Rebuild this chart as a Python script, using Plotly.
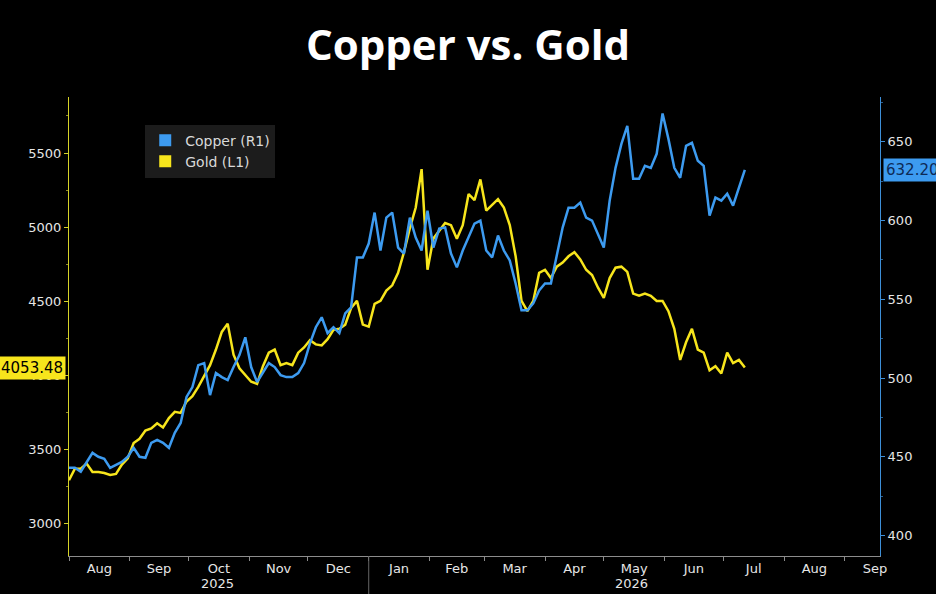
import pandas as pd
import plotly.graph_objects as go

# Copper vs. Gold (um ponto a cada 3 dias)
dates = pd.date_range("2025-08-01", periods=116, freq="3D")

gold = [
    3294, 3371, 3371, 3406, 3350, 3350, 3343, 3329, 3336, 3399,
    3441, 3545, 3573, 3629, 3643, 3678, 3650, 3713, 3755, 3748,
    3825, 3860, 3923, 3993, 4070, 4175, 4294, 4350, 4140, 4049,
    4000, 3958, 3944, 4063, 4154, 4175, 4070, 4084, 4070, 4154,
    4189, 4238, 4210, 4203, 4245, 4308, 4315, 4343, 4455, 4503,
    4343, 4329, 4483, 4503, 4573, 4608, 4692, 4832, 4993, 5133,
    5392, 4713, 4923, 4972, 5028, 5014, 4923, 5014, 5224, 5182,
    5322, 5112, 5154, 5189, 5133, 5014, 4804, 4503, 4434, 4503,
    4692, 4713, 4657, 4734, 4762, 4804, 4832, 4783, 4713, 4678,
    4594, 4524, 4657, 4727, 4734, 4699, 4552, 4538, 4552, 4538,
    4503, 4503, 4434, 4315, 4105, 4224, 4315, 4175, 4154, 4035,
    4063, 4014, 4154, 4084, 4105, 4053.48,
]

copper = [
    443.0, 443.0, 440.5, 446.2, 452.5, 450.0, 448.7, 443.0, 444.9, 446.8,
    450.0, 455.7, 450.0, 449.4, 458.9, 460.8, 458.9, 455.7, 465.2, 471.5,
    488.0, 494.3, 508.2, 509.5, 489.2, 503.2, 500.6, 498.7, 507.0, 514.6,
    525.9, 507.0, 497.5, 503.8, 509.5, 507.0, 501.9, 500.6, 500.6, 503.2,
    509.5, 522.1, 532.3, 538.6, 528.5, 532.3, 528.5, 541.1, 544.9, 576.6,
    576.6, 585.4, 605.1, 581.0, 601.9, 605.1, 582.9, 579.1, 601.9, 589.2,
    581.0, 606.3, 582.9, 594.9, 595.6, 579.1, 570.3, 581.0, 589.2, 598.1,
    600.0, 581.0, 576.6, 590.5, 581.0, 574.7, 560.1, 543.0, 543.0, 547.5,
    555.7, 560.1, 560.1, 579.1, 595.6, 608.2, 608.2, 611.4, 601.9, 600.0,
    591.8, 582.9, 612.7, 633.5, 648.7, 660.1, 626.6, 626.6, 634.8, 633.5,
    642.4, 668.0, 651.9, 633.5, 627.2, 647.5, 649.4, 638.0, 634.8, 603.2,
    614.6, 612.7, 617.1, 609.5, 620.9, 632.2,
]

year_labels = ["2025", "2026"]
year_pos = ["2025-10-16", "2026-05-15"]

GOLD_COLOR = "#f7e51c"
COPPER_COLOR = "#3d9bf0"
TICK_FONT = dict(family="DejaVu Sans", size=13, color="#e6e6e6")

fig = go.Figure()

fig.add_trace(go.Scatter(x=dates, y=gold, mode="lines", name="Gold (L1)",
                         line=dict(color=GOLD_COLOR, width=2.5), showlegend=False))
fig.add_trace(go.Scatter(x=dates, y=copper, mode="lines", name="Copper (R1)",
                         line=dict(color=COPPER_COLOR, width=2.5), yaxis="y2",
                         showlegend=False))

# entradas da legenda com quadrados
fig.add_trace(go.Scatter(x=[None], y=[None], mode="markers", name="Copper (R1)",
                         marker=dict(symbol="square", size=12, color=COPPER_COLOR)))
fig.add_trace(go.Scatter(x=[None], y=[None], mode="markers", name="Gold (L1)",
                         marker=dict(symbol="square", size=12, color=GOLD_COLOR)))

# rótulos dos anos e separador
for label, pos in zip(year_labels, year_pos):
    fig.add_annotation(x=pos, xref="x", y=-0.059, yref="paper", text=label,
                       showarrow=False, font=TICK_FONT, yanchor="middle")
fig.add_shape(type="line", xref="x", x0="2026-01-01", x1="2026-01-01",
              yref="paper", y0=0, y1=-0.09, line=dict(color="#666666", width=1))

# últimos valores
fig.add_annotation(x=0, xref="paper", y=gold[-1], yref="y", text=f"{gold[-1]:.2f}",
                   showarrow=False, xanchor="right", xshift=-3, bgcolor=GOLD_COLOR,
                   font=dict(family="DejaVu Sans", size=15, color="#000000"), borderpad=2)
fig.add_annotation(x=1, xref="paper", y=copper[-1], yref="y2", text=f"{copper[-1]:.2f}",
                   showarrow=False, xanchor="left", xshift=3, bgcolor=COPPER_COLOR,
                   font=dict(family="DejaVu Sans", size=15, color="#0d2a56"), borderpad=2)

fig.update_layout(
    width=936, height=594,
    paper_bgcolor="#000000", plot_bgcolor="#000000",
    margin=dict(l=69, r=56, t=97, b=38, pad=0),
    title=dict(text="<b>Copper vs. Gold</b>", x=0.5, xanchor="center", y=0.924,
               yanchor="middle", font=dict(family="Open Sans", size=42, color="#ffffff")),
    legend=dict(x=0.094, y=0.94, xanchor="left", yanchor="top", bgcolor="#1c1c1c",
                font=dict(family="DejaVu Sans", size=14, color="#d9d9d9"),
                tracegroupgap=0, itemsizing="constant"),
    xaxis=dict(type="date", range=["2025-08-01", "2026-09-19"], dtick="M1",
               tick0="2025-08-01", ticklabelmode="period", tickformat="%b",
               showline=True, linecolor="#8c8c8c", ticks="outside", ticklen=4,
               tickcolor="#8c8c8c", showgrid=False, zeroline=False, tickfont=TICK_FONT,
               ticklabelstandoff=-4),
    yaxis=dict(range=[2783, 5878], tick0=3000, dtick=500, showline=True,
               linecolor="#d6d327", ticks="outside", ticklen=4, tickcolor="#d6d327",
               minor=dict(dtick=250, tick0=3000, ticks="outside", ticklen=2,
                          tickcolor="#8c8a2a"),
               showgrid=False, zeroline=False, tickfont=TICK_FONT),
    yaxis2=dict(range=[387, 678.5], tick0=400, dtick=50, overlaying="y", side="right",
                showline=True, linecolor="#3d8fd8", ticks="outside", ticklen=4,
                tickcolor="#3d8fd8",
                minor=dict(dtick=25, tick0=400, ticks="outside", ticklen=2,
                           tickcolor="#2a5f90"),
                showgrid=False, zeroline=False, tickfont=TICK_FONT),
)

# tira a margem da página para a figura ocupar a janela
fig.write_html("out.html", config={"displayModeBar": False},
               post_script="document.body.style.margin='0';")
